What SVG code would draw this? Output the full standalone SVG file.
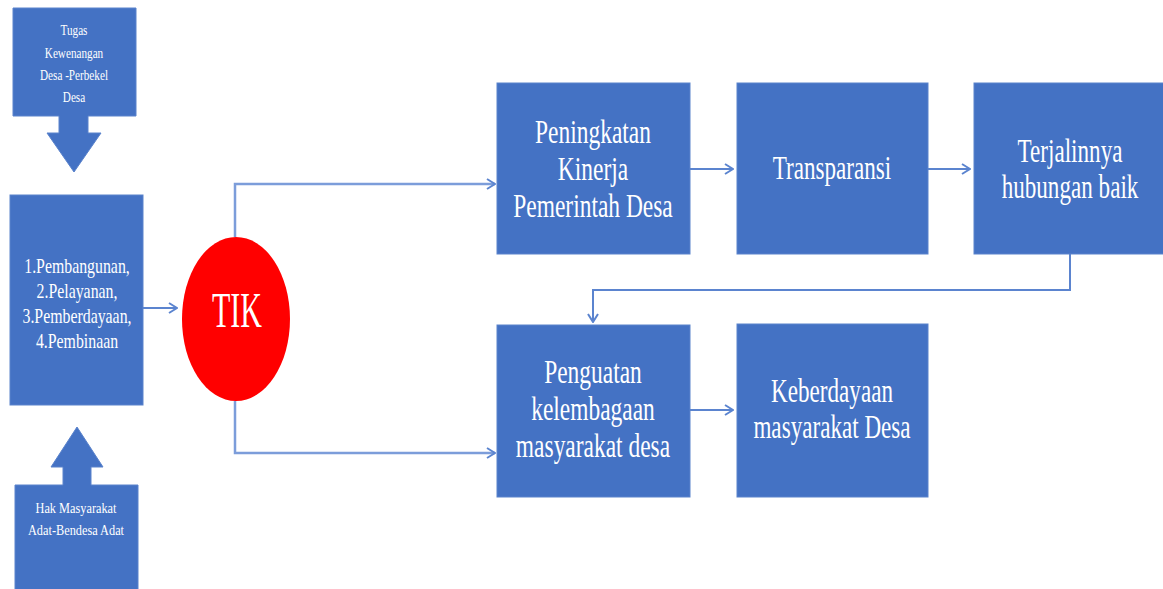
<svg xmlns="http://www.w3.org/2000/svg" width="1163" height="589" viewBox="0 0 1163 589">
  <style>
    .box { fill: #4472C4; stroke: #5A83CC; stroke-width: 1; }
    text { font-family: 'Liberation Serif', 'DejaVu Serif', serif; fill: #ffffff; text-anchor: middle; }
    .big { font-size: 34px; }
    .mid { font-size: 22px; }
    .sm { font-size: 14px; }
    .conn { fill: none; stroke: #5B84CF; stroke-width: 2; }
    .conn2 { fill: none; stroke: #7C9DDA; stroke-width: 2.5; }
  </style>
  <defs>
    <marker id="arr" viewBox="0 0 10 12" refX="9" refY="6" markerWidth="10" markerHeight="12" markerUnits="userSpaceOnUse" orient="auto">
      <path d="M1,1 L9,6 L1,11" fill="none" stroke="#5B84CF" stroke-width="2"/>
    </marker>
  </defs>
  <rect width="1163" height="589" fill="#ffffff"/>

  <g id="connectors">
    <line class="conn" x1="143" y1="308" x2="177" y2="308" marker-end="url(#arr)"/>
    <polyline class="conn2" points="235,237 235,184 495,184" marker-end="url(#arr)"/>
    <polyline class="conn2" points="235,401 235,453 495,453" marker-end="url(#arr)"/>
    <line class="conn" x1="690" y1="169" x2="733" y2="169" marker-end="url(#arr)"/>
    <line class="conn" x1="928" y1="169" x2="970" y2="169" marker-end="url(#arr)"/>
    <polyline class="conn" points="1070,254 1070,290 593,290 593,322" marker-end="url(#arr)"/>
    <line class="conn" x1="690" y1="410" x2="733" y2="410" marker-end="url(#arr)"/>
  </g>

  <g id="node-tugas">
    <path class="box" d="M13,8 H136 V116 H88 V133 H101 L74,172 L47,133 H59 V116 H13 Z"/>
    <text font-family="Liberation Serif, serif" class="sm" transform="translate(74 0) scale(0.8 1)" x="0" y="35">Tugas</text>
    <text font-family="Liberation Serif, serif" class="sm" transform="translate(74 0) scale(0.8 1)" x="0" y="58">Kewenangan</text>
    <text font-family="Liberation Serif, serif" class="sm" transform="translate(74 0) scale(0.8 1)" x="0" y="80">Desa -Perbekel</text>
    <text font-family="Liberation Serif, serif" class="sm" transform="translate(74 0) scale(0.8 1)" x="0" y="102">Desa</text>
  </g>

  <g id="node-fungsi">
    <rect class="box" x="10" y="195" width="133" height="210"/>
    <text class="mid" transform="translate(77 0) scale(0.72 1)" x="0" y="273">1.Pembangunan,</text>
    <text class="mid" transform="translate(77 0) scale(0.72 1)" x="0" y="298">2.Pelayanan,</text>
    <text class="mid" transform="translate(77 0) scale(0.72 1)" x="0" y="323">3.Pemberdayaan,</text>
    <text class="mid" transform="translate(77 0) scale(0.72 1)" x="0" y="348">4.Pembinaan</text>
  </g>

  <g id="node-hak">
    <path class="box" d="M15,485 H63 V467 H51 L77,427 L103,467 H91 V485 H138 V592 H15 Z"/>
    <text class="sm" transform="translate(76 0) scale(0.88 1)" x="0" y="513">Hak Masyarakat</text>
    <text class="sm" transform="translate(76 0) scale(0.88 1)" x="0" y="535">Adat-Bendesa Adat</text>
  </g>

  <g id="node-tik">
    <ellipse cx="236" cy="319" rx="54" ry="82" fill="#FF0000"/>
    <text style="font-size:50px" transform="translate(237 0) scale(0.6 1)" x="0" y="327">TIK</text>
  </g>

  <g id="node-peningkatan">
    <rect class="box" x="497" y="83" width="193" height="171"/>
    <text class="big" transform="translate(593 0) scale(0.69 1)" x="0" y="143">Peningkatan</text>
    <text class="big" transform="translate(593 0) scale(0.69 1)" x="0" y="180">Kinerja</text>
    <text class="big" transform="translate(593 0) scale(0.69 1)" x="0" y="217">Pemerintah Desa</text>
  </g>

  <g id="node-transparansi">
    <rect class="box" x="737" y="83" width="191" height="171"/>
    <text class="big" transform="translate(832 0) scale(0.68 1)" x="0" y="179">Transparansi</text>
  </g>

  <g id="node-terjalinnya">
    <rect class="box" x="974" y="83" width="192" height="171"/>
    <text class="big" transform="translate(1070 0) scale(0.68 1)" x="0" y="162">Terjalinnya</text>
    <text class="big" transform="translate(1070 0) scale(0.68 1)" x="0" y="198">hubungan baik</text>
  </g>

  <g id="node-penguatan">
    <rect class="box" x="497" y="325" width="193" height="172"/>
    <text class="big" transform="translate(593 0) scale(0.69 1)" x="0" y="383">Penguatan</text>
    <text class="big" transform="translate(593 0) scale(0.69 1)" x="0" y="420">kelembagaan</text>
    <text class="big" transform="translate(593 0) scale(0.69 1)" x="0" y="457">masyarakat desa</text>
  </g>

  <g id="node-keberdayaan">
    <rect class="box" x="737" y="324" width="191" height="173"/>
    <text class="big" transform="translate(832 0) scale(0.68 1)" x="0" y="402">Keberdayaan</text>
    <text class="big" transform="translate(832 0) scale(0.68 1)" x="0" y="438">masyarakat Desa</text>
  </g>
</svg>
